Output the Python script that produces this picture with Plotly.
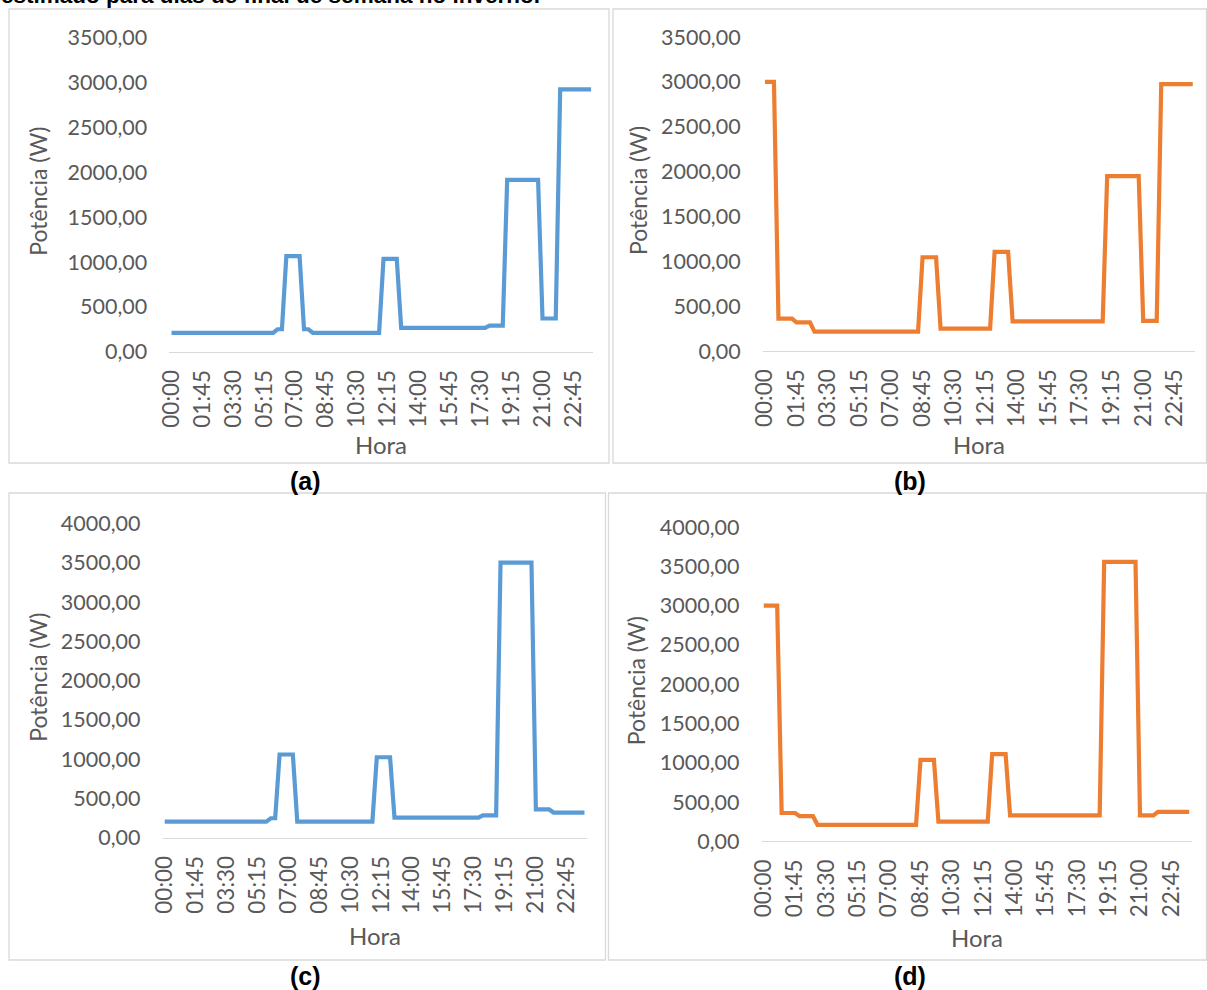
import plotly.graph_objects as go

W, H = 1207, 990

# ---------------- data ----------------
horas = [f"{h:02d}:{m:02d}" for h in range(24) for m in (0, 15, 30, 45)]
tick_labels = ["00:00", "01:45", "03:30", "05:15", "07:00", "08:45", "10:30",
               "12:15", "14:00", "15:45", "17:30", "19:15", "21:00", "22:45"]

pot_a = [210, 210, 210, 210, 210, 210, 210, 210, 210, 210, 210, 210,
         210, 210, 210, 210, 210, 210, 210, 210, 210, 210, 210, 210,
         250, 250, 1065, 1065, 1065, 1065, 250, 250, 210, 210, 210, 210,
         210, 210, 210, 210, 210, 210, 210, 210, 210, 210, 210, 210,
         1035, 1035, 1035, 1035, 265, 265, 265, 265, 265, 265, 265, 265,
         265, 265, 265, 265, 265, 265, 265, 265, 265, 265, 265, 265,
         290, 290, 290, 290, 1915, 1915, 1915, 1915, 1915, 1915, 1915, 1915,
         370, 370, 370, 370, 2925, 2925, 2925, 2925, 2925, 2925, 2925, 2925]

pot_b = [3000, 3000, 3000, 360, 360, 360, 360, 320, 320, 320, 320, 215,
         215, 215, 215, 215, 215, 215, 215, 215, 215, 215, 215, 215,
         215, 215, 215, 215, 215, 215, 215, 215, 215, 215, 215, 1045,
         1045, 1045, 1045, 250, 250, 250, 250, 250, 250, 250, 250, 250,
         250, 250, 250, 1105, 1105, 1105, 1105, 330, 330, 330, 330, 330,
         330, 330, 330, 330, 330, 330, 330, 330, 330, 330, 330, 330,
         330, 330, 330, 330, 1950, 1950, 1950, 1950, 1950, 1950, 1950, 1950,
         335, 335, 335, 335, 2975, 2975, 2975, 2975, 2975, 2975, 2975, 2975]

pot_c = [205, 205, 205, 205, 205, 205, 205, 205, 205, 205, 205, 205,
         205, 205, 205, 205, 205, 205, 205, 205, 205, 205, 205, 205,
         248, 248, 1060, 1060, 1060, 1060, 205, 205, 205, 205, 205, 205,
         205, 205, 205, 205, 205, 205, 205, 205, 205, 205, 205, 205,
         1025, 1025, 1025, 1025, 255, 255, 255, 255, 255, 255, 255, 255,
         255, 255, 255, 255, 255, 255, 255, 255, 255, 255, 255, 255,
         285, 285, 285, 285, 3505, 3505, 3505, 3505, 3505, 3505, 3505, 3505,
         360, 360, 360, 360, 320, 320, 320, 320, 320, 320, 320, 320]

pot_d = [3000, 3000, 3000, 3000, 360, 360, 360, 360, 320, 320, 320, 320,
         210, 210, 210, 210, 210, 210, 210, 210, 210, 210, 210, 210,
         210, 210, 210, 210, 210, 210, 210, 210, 210, 210, 210, 1035,
         1035, 1035, 1035, 250, 250, 250, 250, 250, 250, 250, 250, 250,
         250, 250, 250, 1110, 1110, 1110, 1110, 330, 330, 330, 330, 330,
         330, 330, 330, 330, 330, 330, 330, 330, 330, 330, 330, 330,
         330, 330, 330, 330, 3555, 3555, 3555, 3555, 3555, 3555, 3555, 3555,
         330, 330, 330, 330, 375, 375, 375, 375, 375, 375, 375, 375]

y_max = [3500, 3500, 4000, 4000]
titulo = "estimado para dias de final de semana no inverno."
paineis = ["(a)", "(b)", "(c)", "(d)"]
y_titulo = "Potência (W)"
x_titulo = "Hora"

# ---------------- layout helpers ----------------
BLUE = "#5B9BD5"
ORANGE = "#ED7D31"
TXT = "#595959"
GRID = "#D9D9D9"
FONT = "Lato"


def px(x):
    return x / W


def py(y):
    return 1 - y / H


# plot areas in pixels: (x0, x1, y_top, y_bottom)
areas = [
    (169.3, 593.3, 37.7, 351.7),
    (762.7, 1195.0, 37.0, 351.0),
    (162.5, 586.7, 523.7, 837.7),
    (761.5, 1191.5, 527.0, 841.3),
]
series = [pot_a, pot_b, pot_c, pot_d]
colors = [BLUE, ORANGE, BLUE, ORANGE]

fig = go.Figure()
layout = dict(
    width=W, height=H,
    margin=dict(l=0, r=0, t=0, b=0),
    paper_bgcolor="white", plot_bgcolor="white",
    showlegend=False,
    separators=", ",
    font=dict(family=FONT, color=TXT, size=21),
)

annotations = []
shapes = []

for i, (vals, col, (x0, x1, yt, yb), ym) in enumerate(zip(series, colors, areas, y_max)):
    n = "" if i == 0 else str(i + 1)
    fig.add_trace(go.Scatter(
        x=horas, y=vals, mode="lines",
        line=dict(color=col, width=4.2),
        xaxis="x" + n, yaxis="y" + n,
        hoverinfo="x+y",
    ))
    layout["xaxis" + n] = dict(
        domain=[px(x0), px(x1)], anchor="y" + n,
        type="category", categoryorder="array", categoryarray=horas,
        range=[-0.5, 95.5],
        tickmode="array", tickvals=tick_labels, ticktext=tick_labels,
        tickangle=-90, showgrid=False, zeroline=False,
        showline=True, linecolor=GRID, linewidth=1.3,
        ticks="", ticklabelstandoff=8,
        tickfont=dict(family=FONT, size=22.5, color=TXT),
        automargin=False, fixedrange=True,
    )
    layout["yaxis" + n] = dict(
        domain=[py(yb), py(yt)], anchor="x" + n,
        range=[0, ym], dtick=500, tick0=0,
        tickformat=".2f", showgrid=False, zeroline=False,
        showline=False, ticks="", ticklabelstandoff=21,
        tickfont=dict(family=FONT, size=21.5, color=TXT),
        automargin=False, fixedrange=True,
    )

# axis titles
ytitle_x = [38, 638, 38, 636]
for (x0, x1, yt, yb), xt in zip(areas, ytitle_x):
    annotations.append(dict(
        text=y_titulo, x=px(xt), y=py((yt + yb) / 2 - 3), xref="paper", yref="paper",
        textangle=-90, showarrow=False, xanchor="center", yanchor="middle",
        font=dict(family=FONT, size=23, color=TXT),
    ))
hora_y = [444, 444, 935, 937]
for (x0, x1, yt, yb), hy in zip(areas, hora_y):
    annotations.append(dict(
        text=x_titulo, x=px((x0 + x1) / 2), y=py(hy), xref="paper", yref="paper",
        showarrow=False, xanchor="center", yanchor="middle",
        font=dict(family=FONT, size=24, color=TXT),
    ))

# panel letters
pos_letras = [(305, 481), (910, 481), (305, 976), (910, 976)]
for lab, (lx, ly) in zip(paineis, pos_letras):
    annotations.append(dict(
        text="<b>" + lab + "</b>", x=px(lx), y=py(ly), xref="paper", yref="paper",
        showarrow=False, xanchor="center", yanchor="middle",
        font=dict(family="Liberation Sans", size=25, color="black"),
    ))

# heading at the top (cut off by the page edge, as in the original)
annotations.append(dict(
    text="<b>" + titulo + "</b>", x=px(-1), y=py(10), xref="paper", yref="paper",
    showarrow=False, xanchor="left", yanchor="bottom",
    font=dict(family="Liberation Sans", size=22.5, color="black"),
))

# chart frames
frames = [(9, 9, 609, 463), (613, 9, 1206.5, 463), (9, 493, 605.5, 960), (608.5, 493, 1206.5, 960)]
for fx0, fy0, fx1, fy1 in frames:
    shapes.append(dict(
        type="rect", xref="paper", yref="paper",
        x0=px(fx0), x1=px(fx1), y0=py(fy1), y1=py(fy0),
        line=dict(color=GRID, width=1.3), fillcolor="rgba(0,0,0,0)", layer="below",
    ))

layout["annotations"] = annotations
layout["shapes"] = shapes
fig.update_layout(**layout)

fig.write_html("out.html", config={"displayModeBar": False},
               post_script="document.body.style.margin='0';")
